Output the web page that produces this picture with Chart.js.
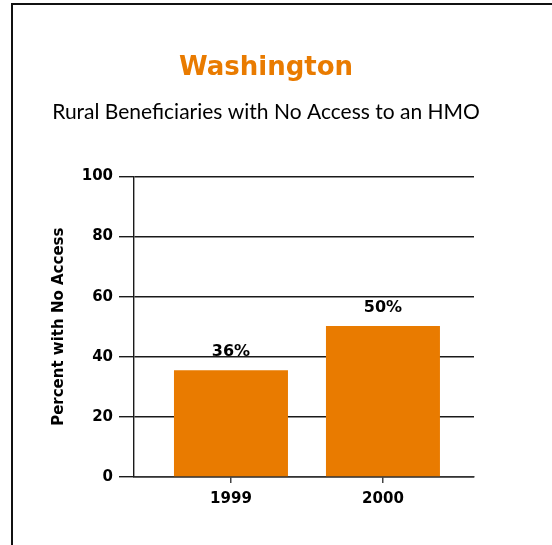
<!DOCTYPE html>
<html>
<head>
<meta charset="utf-8">
<script src="https://cdn.jsdelivr.net/npm/chart.js@4.4.0/dist/chart.umd.min.js"></script>
<style>
  html, body { margin: 0; padding: 0; background: #fff; }
  #wrap { position: relative; width: 552px; height: 545px; overflow: hidden; }
  #frame { position: absolute; left: 11px; top: 3px; width: 600px; height: 600px;
           border-left: 2px solid #111; border-top: 2px solid #111; box-sizing: border-box; }
  canvas { position: absolute; left: 0; top: 0; }
</style>
</head>
<body>
<div id="wrap">
  <div id="frame"></div>
  <canvas id="c" width="552" height="545"></canvas>
</div>
<script>
const chartTitle = "Washington";
const chartSubtitle = "Rural Beneficiaries with No Access to an HMO";
const yAxisTitle = "Percent with No Access";
const categories = ["1999", "2000"];
const values = [35.5, 50.2];
const valueLabels = ["36%", "50%"];
const yTicks = [0, 20, 40, 60, 80, 100];

const ORANGE = "#E97B00";
const BOLD = "'DejaVu Sans', sans-serif";
const FONT = "Lato, 'Open Sans', sans-serif";

const dataLabelPlugin = {
  id: "dataLabels",
  afterDatasetsDraw(chart) {
    const ctx = chart.ctx;
    const meta = chart.getDatasetMeta(0);
    ctx.save();
    ctx.font = "bold 16px " + BOLD;
    ctx.fillStyle = "#000";
    ctx.textAlign = "center";
    ctx.textBaseline = "alphabetic";
    meta.data.forEach((bar, i) => {
      ctx.fillText(valueLabels[i], bar.x, bar.y - 14);
    });
    ctx.restore();
  }
};

new Chart(document.getElementById("c"), {
  type: "bar",
  data: {
    datasets: [{
      data: categories.map((c, i) => ({ x: i, y: values[i] })),
      backgroundColor: ORANGE,
      borderWidth: 0,
      categoryPercentage: 1,
      barPercentage: 0.75
    }]
  },
  options: {
    responsive: false,
    animation: false,
    layout: { padding: { left: 10, right: 30, top: 0, bottom: 0 } },
    plugins: {
      legend: { display: false },
      tooltip: { enabled: false },
      title: {
        display: true, text: chartTitle, color: ORANGE,
        font: { family: BOLD, size: 26, weight: "bold" },
        padding: { top: 53, bottom: 15 }
      },
      subtitle: {
        display: true, text: chartSubtitle, color: "#000",
        font: { family: FONT, size: 21, weight: "normal" },
        padding: { top: 0, bottom: 52 }
      }
    },
    scales: {
      x: {
        type: "linear",
        offset: false,
        min: -0.638, max: 1.599,
        afterBuildTicks: s => { s.ticks = categories.map((c, i) => ({ value: i })); },
        afterFit: s => { s.height = 68; },
        grid: { offset: false, drawOnChartArea: false, drawTicks: true, tickLength: 6, color: "#444", lineWidth: 1.5 },
        border: { display: true, color: "#333", width: 1.5 },
        ticks: {
          callback: v => categories[v],
          color: "#000", padding: 7,
          font: { family: BOLD, size: 15, weight: "bold" }
        }
      },
      y: {
        min: 0, max: 100,
        afterBuildTicks: s => { s.ticks = yTicks.map(v => ({ value: v })); },
        afterFit: s => { s.width = 124; },
        grid: { color: "#1a1a1a", lineWidth: 1.4, tickLength: 15 },
        border: { display: true, color: "#1a1a1a", width: 1.4 },
        ticks: { color: "#000", padding: 6, font: { family: BOLD, size: 15, weight: "bold" } },
        title: {
          display: true, text: yAxisTitle, color: "#000",
          font: { family: BOLD, size: 15, weight: "bold" },
          padding: { top: 40, bottom: 0 }
        }
      },
      yR: {
        position: "right",
        display: true,
        afterFit: s => { s.width = 48; },
        grid: { display: false },
        border: { display: false },
        ticks: { display: false }
      }
    }
  },
  plugins: [dataLabelPlugin]
});
</script>
</body>
</html>
